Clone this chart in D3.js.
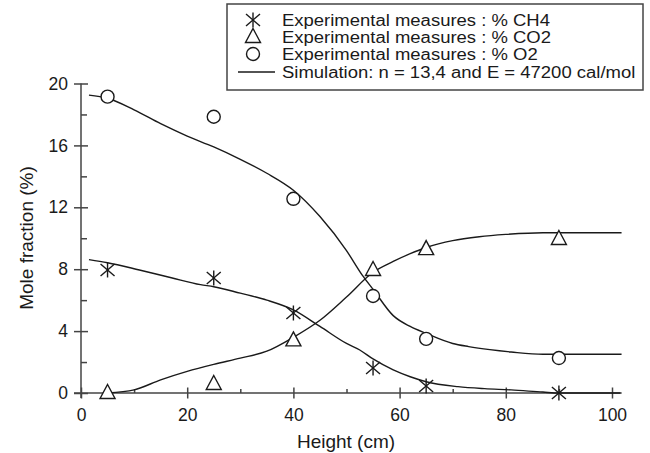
<!DOCTYPE html>
<html>
<head>
<meta charset="utf-8">
<script src="https://cdn.jsdelivr.net/npm/d3@7"></script>
<style>
body { margin: 0; background: #fff; }
svg { font-family: "Liberation Sans", Arial, sans-serif; }
</style>
</head>
<body>
<svg id="chart" width="650" height="453"></svg>
<script>
// measured points (height in cm, mole fraction in %)
var heights = [5, 25, 40, 55, 65, 90];
var ch4_measured = [7.95, 7.43, 5.17, 1.62, 0.45, 0];
var co2_measured = [0, 0.58, 3.4, 7.95, 9.3, 9.95];
var o2_measured = [19.15, 17.85, 12.55, 6.27, 3.5, 2.26];

// simulation curves
var o2_sim_x = [1.5, 5, 10, 15, 20, 25, 30, 35, 40, 45, 50, 53, 55, 58.8, 62, 65, 70, 73, 77, 81, 87, 90, 95, 101.8];
var o2_sim_y = [19.25, 19.05, 18.3, 17.4, 16.6, 15.9, 15.1, 14.2, 13.1, 11.4, 9.2, 7.6, 6.7, 5.0, 4.3, 3.85, 3.2, 3.0, 2.8, 2.65, 2.5, 2.5, 2.5, 2.5];
var co2_sim_x = [5, 10, 15, 20, 25, 30, 35, 40, 45, 50, 55, 58.8, 62, 65, 70, 75, 80, 87, 95, 101.8];
var co2_sim_y = [0, 0.2, 0.85, 1.4, 1.85, 2.25, 2.7, 3.6, 4.7, 6.2, 7.8, 8.5, 9.0, 9.4, 9.85, 10.1, 10.25, 10.36, 10.36, 10.36];
var ch4_sim_x = [1.5, 5, 11, 17, 22.5, 25, 30, 35, 40, 45, 50, 52.5, 55, 58.8, 62, 65, 71, 76, 81, 87, 90, 95, 101.8];
var ch4_sim_y = [8.62, 8.42, 7.95, 7.45, 7.0, 6.87, 6.45, 6.0, 5.37, 4.3, 3.2, 2.78, 2.2, 1.49, 1.05, 0.73, 0.41, 0.28, 0.2, 0.06, 0, 0, 0];

var x_ticks = [0, 20, 40, 60, 80, 100];
var x_minor = [10, 30, 50, 70, 90];
var y_ticks = [0, 4, 8, 12, 16, 20];
var y_minor = [2, 6, 10, 14, 18];

var legend_labels = [
	"Experimental measures : % CH4",
	"Experimental measures : % CO2",
	"Experimental measures : % O2",
	"Simulation: n = 13,4 and E = 47200 cal/mol"
];

var ink = "#1a1a1a";
var axis_color = "#444";

var svg = d3.select("#chart");
var x = d3.scaleLinear().domain([0, 100]).range([81, 612]);
var y = d3.scaleLinear().domain([0, 20]).range([393, 83.5]);

// axes
var x_axis = svg.append("g").attr("transform", "translate(0," + y(0) + ")")
	.call(d3.axisBottom(x).tickValues(x_ticks).tickSize(5.5).tickPadding(8).tickFormat(d3.format("d")));
x_axis.select(".domain").remove();
x_axis.append("line").attr("x1", 74).attr("x2", 620).attr("stroke", axis_color).attr("stroke-width", 1.5);
x_axis.selectAll(".tick line").attr("y1", -5.5).attr("y2", 5.5);
svg.append("g").attr("transform", "translate(0," + y(0) + ")")
	.call(d3.axisTop(x).tickValues(x_minor).tickSize(4).tickFormat(""))
	.select(".domain").remove();

var y_axis = svg.append("g").attr("transform", "translate(" + x(0) + ",0)")
	.call(d3.axisLeft(y).tickValues(y_ticks).tickSize(7).tickPadding(6).tickFormat(d3.format("d")));
y_axis.select(".domain").remove();
y_axis.append("line").attr("y1", y(20)).attr("y2", 398).attr("stroke", axis_color).attr("stroke-width", 1.5);
y_axis.selectAll(".tick line").attr("x1", -7).attr("x2", 7);
svg.append("g").attr("transform", "translate(" + x(0) + ",0)")
	.call(d3.axisRight(y).tickValues(y_minor).tickSize(6).tickFormat(""))
	.select(".domain").remove();

svg.selectAll(".tick line").attr("stroke", axis_color).attr("stroke-width", 1.5);
svg.selectAll(".tick text").attr("fill", ink).style("font-size", "17.5px").style("font-family", "Liberation Sans, Arial, sans-serif");
x_axis.selectAll(".tick text").attr("dy", "0.8em");

svg.append("text").attr("x", 346).attr("y", 448).attr("text-anchor", "middle")
	.style("font-size", "19px").attr("fill", ink).text("Height (cm)");
svg.append("text").attr("transform", "translate(33,238) rotate(-90)").attr("text-anchor", "middle")
	.style("font-size", "19px").attr("fill", ink).text("Mole fraction (%)");

// simulation lines
var line = d3.line().x(function(d) { return x(d[0]); }).y(function(d) { return y(d[1]); }).curve(d3.curveMonotoneX);
function draw_sim(xs, ys) {
	svg.append("path").datum(d3.zip(xs, ys)).attr("d", line)
		.attr("fill", "none").attr("stroke", ink).attr("stroke-width", 1.4);
}
draw_sim(o2_sim_x, o2_sim_y);
draw_sim(co2_sim_x, co2_sim_y);
draw_sim(ch4_sim_x, ch4_sim_y);

// markers
function star(g) {
	g.append("line").attr("x1", 0).attr("y1", -7.5).attr("x2", 0).attr("y2", 7.5);
	g.append("line").attr("x1", -7).attr("y1", -6).attr("x2", 7).attr("y2", 6);
	g.append("line").attr("x1", -7).attr("y1", 6).attr("x2", 7).attr("y2", -6);
}
function triangle(g) {
	g.append("path").attr("d", "M0,-8.5L7.5,5.5L-7.5,5.5Z").attr("fill", "#fff");
}
function circle(g) {
	g.append("circle").attr("r", 6.5).attr("fill", "#fff");
}
function draw_points(values, shape) {
	values.forEach(function(v, i) {
		var g = svg.append("g").attr("transform", "translate(" + x(heights[i]) + "," + y(v) + ")")
			.attr("stroke", ink).attr("stroke-width", 1.4).attr("fill", "none");
		shape(g);
	});
}
draw_points(co2_measured, triangle);
draw_points(o2_measured, circle);
draw_points(ch4_measured, star);

// legend
var legend = svg.append("g");
legend.append("rect").attr("x", 227).attr("y", 4).attr("width", 416).attr("height", 86)
	.attr("fill", "#fff").attr("stroke", axis_color).attr("stroke-width", 1.5);
var legend_rows = [20, 37, 54, 72];
var legend_shapes = [star, triangle, circle, null];
var stretch = 1;
legend_labels.forEach(function(label, i) {
	var g = legend.append("g").attr("transform", "translate(253," + legend_rows[i] + ")")
		.attr("stroke", ink).attr("stroke-width", 1.4).attr("fill", "none");
	if (legend_shapes[i]) {
		legend_shapes[i](g);
	} else {
		g.append("line").attr("x1", -15).attr("x2", 22);
	}
	var t = legend.append("text").attr("x", 282).attr("y", legend_rows[i]).attr("dy", "0.35em")
		.style("font-size", "16px").attr("fill", ink).text(label);
	// the reference glyphs are a bit wider than Liberation Sans
	var len = t.node().getComputedTextLength();
	if (i == 0) stretch = 268 / len;
	t.attr("textLength", len * stretch).attr("lengthAdjust", "spacingAndGlyphs");
});
</script>
</body>
</html>
